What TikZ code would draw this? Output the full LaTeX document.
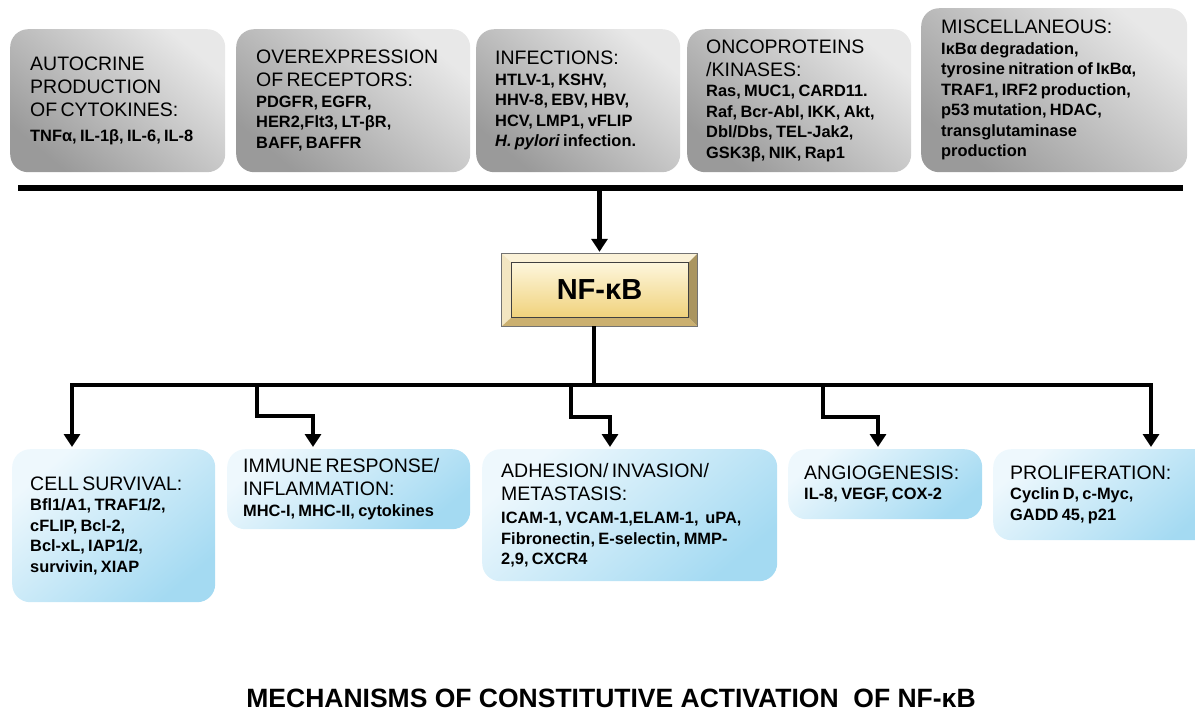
\documentclass[tikz,border=0pt]{standalone}
\usepackage{fontspec}
\setmainfont{Liberation Sans}
\usetikzlibrary{arrows.meta}
\setlength{\parindent}{0pt}
\newcommand\hdf{\fontsize{19.5}{23}\selectfont\mdseries}
\newcommand\bdf{\fontsize{16.4}{20.5}\selectfont\bfseries}
\definecolor{gtop}{HTML}{E8E8E8}
\definecolor{gbot}{HTML}{9A9A9A}
\definecolor{btop}{HTML}{EEF8FD}
\definecolor{bbot}{HTML}{A4DAF2}
\definecolor{bvtop}{HTML}{FBF2D8}
\definecolor{bvleft}{HTML}{F3E6C2}
\definecolor{bvright}{HTML}{AA9560}
\definecolor{bvbot}{HTML}{CBB070}
\definecolor{intop}{HTML}{FDF6DC}
\definecolor{inbot}{HTML}{F0D27C}
\begin{document}
\begin{tikzpicture}[x=1pt,y=-1pt,
  graybox/.style={rounded corners=18pt, top color=gtop, bottom color=gbot, shading angle=-40, anchor=north west, inner sep=0pt},
  bluebox/.style={rounded corners=18pt, top color=btop, bottom color=bbot, shading angle=40, anchor=north west, inner sep=0pt},
  txt/.style={anchor=west, align=left, text width=300pt, inner sep=0pt},
  ln/.style={line width=4.5pt},
  arr/.style={line width=4.5pt, -{Triangle[width=16pt,length=13pt]}, shorten >=2pt}
]
\useasboundingbox (0,0) rectangle (1195,713);

% top boxes
\node[graybox, minimum width=215pt, minimum height=143pt] (b1) at (10,29) {};
\node[graybox, minimum width=234pt, minimum height=143pt] (b2) at (236,29) {};
\node[graybox, minimum width=204pt, minimum height=143pt] (b3) at (476,29) {};
\node[graybox, minimum width=224pt, minimum height=143pt] (b4) at (687,29) {};
\node[graybox, minimum width=266pt, minimum height=164pt] (b5) at (921,8) {};

\node[txt] (t1) at ([xshift=20pt]b1.west) {\hdf AUTOCRINE\\PRODUCTION\\OF CYTOKINES:\par\vspace{4pt}\bdf TNFα, IL-1β, IL-6, IL-8\par};
\node[txt] (t2) at ([xshift=20pt]b2.west) {\hdf OVEREXPRESSION\\OF RECEPTORS:\par\bdf PDGFR, EGFR,\\HER2,Flt3, LT-βR,\\BAFF, BAFFR\par};
\node[txt] (t3) at ([xshift=19pt]b3.west) {\hdf INFECTIONS:\par\bdf HTLV-1, KSHV,\\HHV-8, EBV, HBV,\\HCV, LMP1, vFLIP\\\textit{H. pylori} infection.\par};
\node[txt] (t4) at ([xshift=19pt]b4.west) {\hdf ONCOPROTEINS\\/KINASES:\par\bdf Ras, MUC1, CARD11.\\Raf, Bcr-Abl, IKK, Akt,\\Dbl/Dbs, TEL-Jak2,\\GSK3β, NIK, Rap1\par};
\node[txt] (t5) at ([xshift=20pt]b5.west) {\hdf MISCELLANEOUS:\par\bdf IκBα degradation,\\tyrosine nitration of IκBα,\\TRAF1, IRF2 production,\\p53 mutation, HDAC,\\transglutaminase\\production\par};

% bar
\coordinate (barL) at (18,188);
\coordinate (barR) at (1183,188);
\coordinate (barM) at (599.5,188);
\draw[line width=6pt] (barL) -- (barR);

% NF-kB bevelled box
\node[minimum width=195pt, minimum height=72pt, inner sep=0pt] (nf) at (599.5,290) {};
\coordinate (inw) at ([shift={(10,9)}]nf.north west);
\coordinate (ine) at ([shift={(-9,9)}]nf.north east);
\coordinate (ise) at ([shift={(-9,-9)}]nf.south east);
\coordinate (isw) at ([shift={(10,-9)}]nf.south west);
\fill[bvtop] (nf.north west) -- (nf.north east) -- (ine) -- (inw) -- cycle;
\fill[bvleft] (nf.north west) -- (nf.south west) -- (isw) -- (inw) -- cycle;
\fill[bvright] (nf.north east) -- (nf.south east) -- (ise) -- (ine) -- cycle;
\fill[bvbot] (nf.south west) -- (nf.south east) -- (ise) -- (isw) -- cycle;
\shade[top color=intop, bottom color=inbot] (inw) rectangle (ise);
\draw[black!55, line width=0.8pt] (nf.north west) rectangle (nf.south east);
\draw[black!75, line width=0.9pt] (inw) rectangle (ise);
\node[font=\fontsize{29}{32}\selectfont\bfseries] (nftext) at (nf.center) {NF-κB};

\draw[arr] (barM) -- (nf.north);

% lower distribution
\coordinate (hub) at (594,385);
\coordinate (bL) at (72,385);
\coordinate (bR) at (1151,385);
\draw[ln] (nf.south -| hub) -- (hub);
\draw[ln, line cap=rect] (bL) -- (bR);

% bottom boxes
\node[bluebox, minimum width=203pt, minimum height=153pt] (s1) at (12,449) {};
\node[bluebox, minimum width=243pt, minimum height=80pt] (s2) at (227,449) {};
\node[bluebox, minimum width=295pt, minimum height=132pt] (s3) at (482,449) {};
\node[bluebox, minimum width=194pt, minimum height=70pt] (s4) at (788,449) {};
\node[bluebox, minimum width=225pt, minimum height=91pt] (s5) at (993,449) {};

\node[txt] (u1) at ([xshift=18pt]s1.west) {\hdf CELL SURVIVAL:\par\bdf Bfl1/A1, TRAF1/2,\\cFLIP, Bcl-2,\\Bcl-xL, IAP1/2,\\survivin, XIAP\par};
\node[txt] (u2) at ([xshift=16pt]s2.west) {\hdf IMMUNE RESPONSE/\\INFLAMMATION:\par\bdf MHC-I, MHC-II, cytokines\par};
\node[txt] (u3) at ([xshift=19pt]s3.west) {\hdf ADHESION/ INVASION/\\METASTASIS:\par\vspace{3pt}\bdf ICAM-1, VCAM-1,ELAM-1,~ uPA,\\Fibronectin, E-selectin, MMP-\\2,9, CXCR4\par};
\node[txt] (u4) at ([xshift=16pt]s4.west) {\hdf ANGIOGENESIS:\par\bdf IL-8, VEGF, COX-2\par};
\node[txt] (u5) at ([xshift=17pt]s5.west) {\hdf PROLIFERATION:\par\bdf Cyclin D, c-Myc,\\GADD 45, p21\par};

% branch arrows
\coordinate (j2) at (257,385);
\coordinate (m2) at (313,416);
\coordinate (j3) at (571,385);
\coordinate (m3) at (610,417);
\coordinate (j4) at (823,385);
\coordinate (m4) at (878,417);
\draw[arr] (bL) -- (bL |- s1.north);
\draw[arr] (j2) |- (m2) -- (m2 |- s2.north);
\draw[arr] (j3) |- (m3) -- (m3 |- s3.north);
\draw[arr] (j4) |- (m4) -- (m4 |- s4.north);
\draw[arr] (bR) -- (bR |- s5.north);

% title
\node[font=\fontsize{26.5}{30}\selectfont\bfseries, anchor=base, inner sep=0pt] (title) at (611,707) {MECHANISMS OF CONSTITUTIVE ACTIVATION\ \ OF NF-κB};
\end{tikzpicture}
\end{document}
